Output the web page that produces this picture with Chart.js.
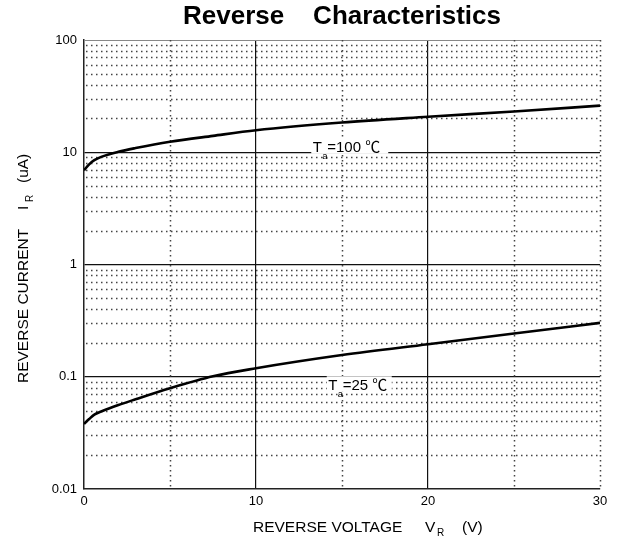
<!DOCTYPE html>
<html>
<head>
<meta charset="utf-8">
<script src="https://cdn.jsdelivr.net/npm/chart.js@4/dist/chart.umd.min.js"></script>
<style>
  html, body { margin: 0; padding: 0; background: #fff; }
  canvas { display: block; }
</style>
</head>
<body>
<canvas id="myChart" width="617" height="540"></canvas>
<script>
// reverse voltage (V) and reverse current (uA)
const voltage = [0, 0.3, 0.6, 1, 2, 3, 5, 7.5, 10, 15, 20, 25, 30];
const current100 = [6.9, 7.8, 8.5, 9.1, 10.1, 10.9, 12.4, 14.0, 15.7, 18.4, 20.7, 23.1, 26.0];
const current25 = [0.038, 0.042, 0.046, 0.049, 0.056, 0.063, 0.079, 0.101, 0.119, 0.156, 0.195, 0.243, 0.302];

const xTickLabels = ['0', '10', '20', '30'];
const yTickValues = [0.01, 0.1, 1, 10, 100];
const yTickLabels = ['0.01', '0.1', '1', '10', '100'];
const mantissas = [1, 2, 3, 4, 5, 6, 7, 8, 9];

const FONT = '"Liberation Sans", Arial, "Noto Sans CJK SC", sans-serif';
Chart.defaults.color = '#000';
Chart.defaults.font.family = FONT;

const isDecade = v => Math.abs(Math.log10(v) - Math.round(Math.log10(v))) < 1e-6;

// dotted minor grid, drawn through the scales
const dottedGrid = {
  id: 'dottedGrid',
  beforeDatasetsDraw(chart) {
    const { ctx, chartArea: a, scales: { x, y } } = chart;
    ctx.save();
    // thin solid top edge
    ctx.strokeStyle = '#888';
    ctx.lineWidth = 1;
    const top = Math.round(y.getPixelForValue(100)) + 0.5;
    ctx.beginPath(); ctx.moveTo(a.left, top); ctx.lineTo(a.right, top); ctx.stroke();

    ctx.strokeStyle = '#444';
    ctx.lineWidth = 1.5;
    ctx.setLineDash([1.5, 3.5]);
    y.ticks.forEach(t => {
      if (isDecade(t.value)) return;
      const py = Math.round(y.getPixelForValue(t.value)) + 0.5;
      ctx.beginPath(); ctx.moveTo(a.left + 2, py); ctx.lineTo(a.right, py); ctx.stroke();
    });
    x.ticks.forEach(t => {
      if (t.value % 10 === 0 && t.value !== 30) return;
      const px = Math.round(x.getPixelForValue(t.value)) + 0.5;
      ctx.beginPath(); ctx.moveTo(px, a.top); ctx.lineTo(px, a.bottom); ctx.stroke();
    });
    ctx.restore();
  }
};

// curve labels T_a = ... sitting on the grid lines
const curveLabels = [
  { v: 13.3, i: 10, rest: '=100 \u2103', boxTop: -13, boxBottom: 1.5, base: 0, w: 77 },
  { v: 14.2, i: 0.1, rest: '=25 \u2103', boxTop: -0.5, boxBottom: 15, base: 13.5, w: 65 },
];
const curveLabelPlugin = {
  id: 'curveLabels',
  afterDatasetsDraw(chart) {
    const { ctx, scales: { x, y } } = chart;
    ctx.save();
    curveLabels.forEach(l => {
      const px = x.getPixelForValue(l.v);
      const py = y.getPixelForValue(l.i);
      ctx.fillStyle = '#fff';
      ctx.fillRect(px - 1.5, py + l.boxTop, l.w, l.boxBottom - l.boxTop);
      ctx.fillStyle = '#000';
      ctx.textBaseline = 'alphabetic';
      ctx.font = '15px ' + FONT;
      ctx.fillText('T', px, py + l.base);
      ctx.fillText(l.rest, px + 14.5, py + l.base);
      ctx.font = '9.5px ' + FONT;
      ctx.fillText('a', px + 9.5, py + l.base + 6.5);
    });
    ctx.restore();
  }
};

// axis titles with subscripts
const axisTitles = {
  id: 'axisTitles',
  afterDraw(chart) {
    const { ctx, chartArea: a } = chart;
    ctx.save();
    ctx.fillStyle = '#000';
    ctx.textBaseline = 'alphabetic';
    const big = '15.5px ' + FONT, small = '10px ' + FONT;

    const x0 = a.left + 169, by = a.bottom + 43;
    ctx.font = big;
    ctx.fillText('REVERSE VOLTAGE', x0, by);
    ctx.fillText('V', x0 + 172, by);
    ctx.fillText('(V)', x0 + 209, by);
    ctx.font = small;
    ctx.fillText('R', x0 + 184, by + 4);

    ctx.translate(28, a.bottom - 106);
    ctx.rotate(-Math.PI / 2);
    ctx.font = big;
    ctx.fillText('REVERSE CURRENT', 0, 0);
    ctx.fillText('I', 173, 0);
    ctx.fillText('(uA)', 200, 0);
    ctx.font = small;
    ctx.fillText('R', 181, 5);
    ctx.restore();
  }
};

class reverseChart {
  render() {
    const ctx = document.getElementById('myChart').getContext('2d');
    const line = (values) => ({
      data: voltage.map((v, i) => ({ x: v, y: values[i] })),
      borderColor: '#000',
      backgroundColor: '#000',
      borderWidth: 2.6,
      pointRadius: 0,
      cubicInterpolationMode: 'monotone',
    });
    new Chart(ctx, {
      type: 'line',
      data: { datasets: [line(current100), line(current25)] },
      options: {
        responsive: false,
        animation: false,
        devicePixelRatio: 1,
        layout: { padding: { left: 0, right: 17, top: 0, bottom: 0 } },
        plugins: {
          legend: { display: false },
          tooltip: { enabled: false },
          title: {
            display: true,
            fullSize: false,
            text: 'Reverse    Characteristics',
            color: '#000',
            font: { size: 26, weight: 'bold', family: FONT, lineHeight: 1.2 },
            padding: { top: 1, bottom: 7.8 },
          },
        },
        scales: {
          x: {
            type: 'linear',
            min: 0,
            max: 30,
            afterFit: s => { s.height = 51; },
            ticks: {
              stepSize: 5,
              autoSkip: false,
              maxRotation: 0,
              padding: 5,
              font: { size: 13, family: FONT },
              callback: v => (v % 10 === 0 ? xTickLabels[v / 10] : ''),
            },
            grid: {
              drawTicks: false,
              lineWidth: 1.2,
              color: c => (c.tick && c.tick.value % 10 === 0 && c.tick.value > 0 && c.tick.value < 30 ? '#111' : 'rgba(0,0,0,0)'),
            },
            border: { color: '#222', width: 1.5 },
          },
          y: {
            type: 'logarithmic',
            min: 0.01,
            max: 100,
            afterFit: s => { s.width = 84; },
            afterBuildTicks: s => {
              s.ticks = yTickValues.slice(0, -1)
                .flatMap(d => mantissas.map(m => ({ value: d * m })))
                .concat([{ value: 100 }]);
            },
            ticks: {
              autoSkip: false,
              padding: 7,
              font: { size: 13, family: FONT },
              callback: v => {
                const k = yTickValues.findIndex(t => Math.abs(t - v) / t < 1e-6);
                return k >= 0 ? yTickLabels[k] : '';
              },
            },
            grid: {
              drawTicks: false,
              lineWidth: 1.2,
              color: c => (c.tick && isDecade(c.tick.value) && c.tick.value > 0.011 && c.tick.value < 99 ? '#111' : 'rgba(0,0,0,0)'),
            },
            border: { color: '#222', width: 1.5 },
          },
        },
      },
      plugins: [dottedGrid, curveLabelPlugin, axisTitles],
    });
  }

  start() {
    this.render();
  }
}

new reverseChart().start();
</script>
</body>
</html>
